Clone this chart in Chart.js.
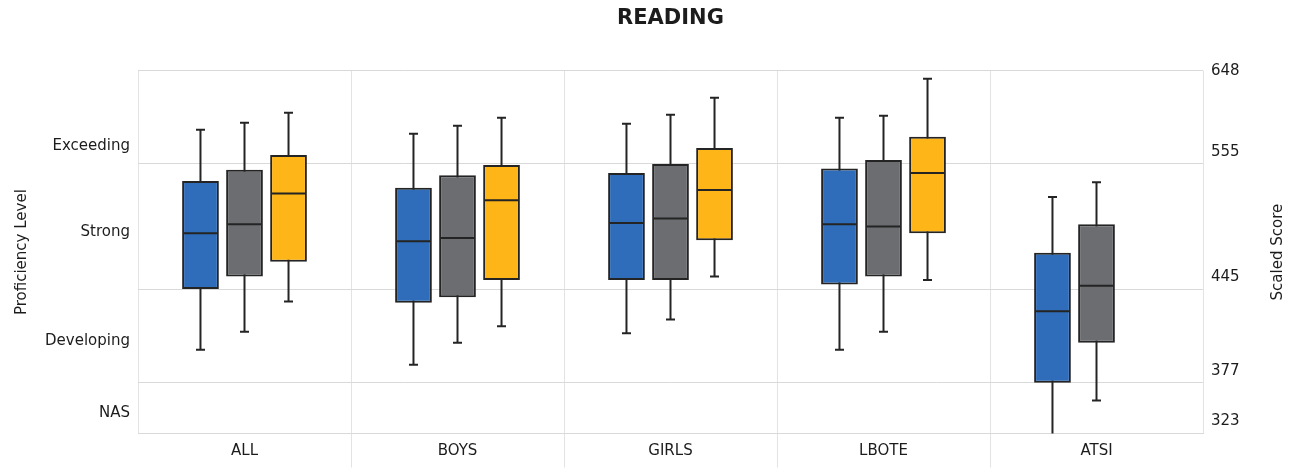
<!DOCTYPE html>
<html>
<head>
<meta charset="utf-8">
<script src="https://cdn.jsdelivr.net/npm/chart.js@4/dist/chart.umd.min.js"></script>
<style>
  html, body { margin: 0; padding: 0; background: #fff; }
  #wrap { width: 1297px; height: 469px; position: relative; }
</style>
</head>
<body>
<div id="wrap"><canvas id="chart"></canvas></div>
<script>
// Categories (x axis)
const CATEGORIES = ['ALL', 'BOYS', 'GIRLS', 'LBOTE', 'ATSI'];

// Box plot values per category: [min, q1, median, q3, max] (scaled score)
const SERIES_1 = [
    [401, 445, 494, 540, 589],
    [390, 435, 487, 534, 585],
    [413, 453, 503, 547, 595],
    [401, 449, 502, 551, 601],
    [321, 377, 429, 477, 526]
];
const SERIES_2 = [
    [414, 456, 502, 550, 596],
    [406, 439, 490, 545, 593],
    [423, 453, 507, 555, 604],
    [414, 456, 500, 559, 603],
    [358, 406, 448, 502, 539]
];
const SERIES_3 = [
    [436, 469, 529, 564, 606],
    [418, 453, 523, 554, 601],
    [456, 488, 532, 571, 621],
    [453, 494, 547, 582, 640],
    null
];

// Right axis: scaled score cut-offs (tick labels)
const SCORE_TICKS = [323, 377, 445, 555, 648];
// Left axis: proficiency levels and where their label sits (in score units)
const LEVELS = ['NAS', 'Developing', 'Strong', 'Exceeding'];
const LEVEL_AT = [345, 407, 495, 573];

// Fraction of the plot height at each cut-off (the axis is not linear)
const STOP_POS = [0, 0.140, 0.398, 0.743, 1];

const COLORS = ['#2f6cb9', '#6b6d70', '#fdb517'];
const FONT = 'DejaVu Sans';
const TEXT = '#1c1c1c';

function toFraction(v) {
    const k = SCORE_TICKS, f = STOP_POS;
    let i = 0;
    if (v >= k[k.length - 1]) i = k.length - 2;
    else while (i < k.length - 2 && v > k[i + 1]) i++;
    return f[i] + (v - k[i]) * (f[i + 1] - f[i]) / (k[i + 1] - k[i]);
}
function fromFraction(t) {
    const k = SCORE_TICKS, f = STOP_POS;
    let i = 0;
    while (i < f.length - 2 && t > f[i + 1]) i++;
    return k[i] + (t - f[i]) * (k[i + 1] - k[i]) / (f[i + 1] - f[i]);
}

// Piecewise linear score scale
class BandScale extends Chart.LinearScale {
    getPixelForValue(value) {
        if (value === null || value === undefined) return NaN;
        return this.getPixelForDecimal(toFraction(value));
    }
    getValueForPixel(pixel) {
        return fromFraction(this.getDecimalForPixel(pixel));
    }
}
BandScale.id = 'band';
BandScale.defaults = Chart.LinearScale.defaults;
Chart.register(BandScale);

// whiskers under the boxes, medians on top
function drawParts(chart, part) {
    const { ctx, chartArea } = chart;
    const yScale = chart.scales.y;
    ctx.save();
    Chart.helpers.clipArea(ctx, chartArea);
    ctx.strokeStyle = '#242424';
    ctx.lineWidth = 2;
    chart.data.datasets.forEach((ds, i) => {
        const meta = chart.getDatasetMeta(i);
        ds.stats.forEach((s, j) => {
            if (!s) return;
            const bar = meta.data[j];
            const x = bar.x;
            const [lo, , med, , hi] = s;
            ctx.beginPath();
            if (part === 'whisker') {
                const yHi = yScale.getPixelForValue(hi);
                const yLo = yScale.getPixelForValue(lo);
                ctx.moveTo(x, yHi); ctx.lineTo(x, yLo);
                ctx.moveTo(x - 4.5, yHi); ctx.lineTo(x + 4.5, yHi);
                ctx.moveTo(x - 4.5, yLo); ctx.lineTo(x + 4.5, yLo);
            } else {
                const yMed = yScale.getPixelForValue(med);
                const w = bar.width / 2 - 1;
                ctx.moveTo(x - w, yMed); ctx.lineTo(x + w, yMed);
            }
            ctx.stroke();
        });
    });
    Chart.helpers.unclipArea(ctx);
    ctx.restore();
}

const boxPlugin = {
    id: 'boxParts',
    beforeDatasetsDraw(chart) { drawParts(chart, 'whisker'); },
    afterDatasetsDraw(chart) { drawParts(chart, 'median'); }
};

// right axis title, reading bottom to top
const sideTitlePlugin = {
    id: 'sideTitle',
    afterDraw(chart) {
        const { ctx, chartArea } = chart;
        const s = chart.scales.y;
        ctx.save();
        ctx.translate(s.right - 19, (chartArea.top + chartArea.bottom) / 2);
        ctx.rotate(-Math.PI / 2);
        ctx.font = '15px "' + FONT + '"';
        ctx.fillStyle = TEXT;
        ctx.textAlign = 'center';
        ctx.textBaseline = 'middle';
        ctx.fillText('Scaled Score', 0, 0);
        ctx.restore();
    }
};

const allSeries = [SERIES_1, SERIES_2, SERIES_3];

new Chart(document.getElementById('chart'), {
    type: 'bar',
    data: {
        labels: CATEGORIES,
        datasets: allSeries.map((series, i) => ({
            data: series.map(s => s ? [s[1], s[3]] : null),
            stats: series,
            backgroundColor: COLORS[i],
            borderColor: '#242424',
            borderWidth: 2,
            borderSkipped: false,
            categoryPercentage: 0.62,
            barPercentage: 0.835,
            yAxisID: 'y'
        }))
    },
    plugins: [boxPlugin, sideTitlePlugin],
    options: {
        responsive: true,
        maintainAspectRatio: false,
        animation: false,
        layout: { padding: 0 },
        plugins: {
            legend: { display: false },
            tooltip: { enabled: false },
            title: { display: false }
        },
        scales: {
            // top axis only carries the chart title, centred over the plot
            xt: {
                type: 'category',
                position: 'top',
                grid: { display: false, drawTicks: false },
                border: { display: false },
                ticks: { display: false },
                title: {
                    display: true,
                    text: 'READING',
                    color: TEXT,
                    font: { family: FONT, size: 21, weight: 'bold' },
                    padding: { top: 6, bottom: 0 }
                },
                afterFit: s => { s.height = 70.7; }
            },
            x: {
                type: 'category',
                grid: {
                    offset: true,
                    color: '#e3e3e3',
                    tickLength: 34,
                    tickColor: c => (c.index === 0 || c.index === undefined) ? 'rgba(0,0,0,0)' : '#e3e3e3'
                },
                border: { display: true, color: '#d9d9d9' },
                ticks: {
                    color: TEXT,
                    font: { family: FONT, size: 15 },
                    padding: -25,
                    maxRotation: 0
                },
                afterFit: s => { s.height = 35.5; }
            },
            yl: {
                type: 'band',
                position: 'left',
                min: 323,
                max: 648,
                grid: { display: false, drawTicks: false },
                border: { display: false },
                afterBuildTicks: s => { s.ticks = LEVEL_AT.map(v => ({ value: v })); },
                ticks: {
                    autoSkip: false,
                    padding: 8,
                    color: TEXT,
                    font: { family: FONT, size: 15 },
                    callback: v => LEVELS[LEVEL_AT.indexOf(v)]
                },
                title: {
                    display: true,
                    text: 'Proficiency Level',
                    color: TEXT,
                    font: { family: FONT, size: 15 },
                    padding: { top: 13, bottom: 0 }
                },
                afterFit: s => { s.width = 138; }
            },
            y: {
                type: 'band',
                position: 'right',
                min: 323,
                max: 648,
                grid: { color: '#d9d9d9', drawTicks: false },
                border: { display: false },
                afterBuildTicks: s => { s.ticks = SCORE_TICKS.map(v => ({ value: v })); },
                ticks: {
                    autoSkip: false,
                    padding: 8,
                    color: TEXT,
                    font: { family: FONT, size: 15, lineHeight: 1.6 },
                    // labels sit just above their cut-off line, except the top one
                    callback: v => v === SCORE_TICKS[SCORE_TICKS.length - 1] ? String(v) : [String(v), '']
                },
                afterFit: s => { s.width = 94; }
            }
        }
    }
});
</script>
</body>
</html>
